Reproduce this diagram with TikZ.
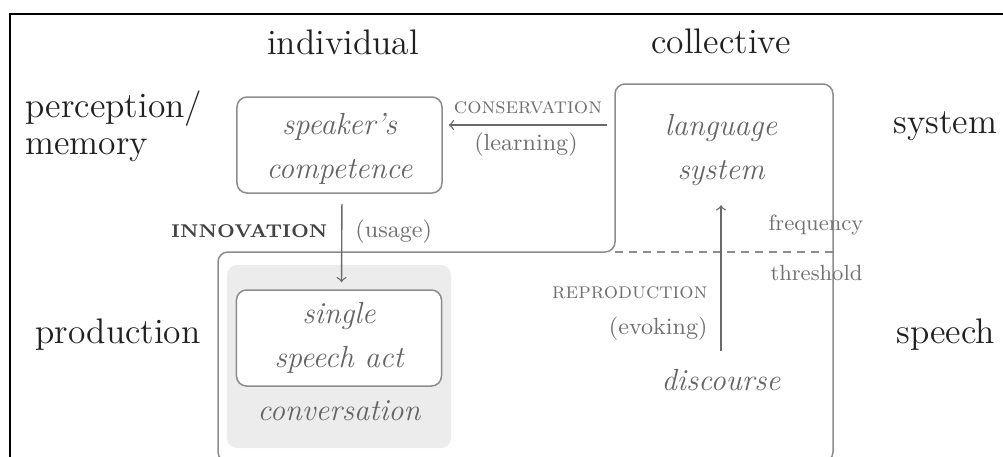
\documentclass[tikz,border=0pt]{standalone}
\definecolor{linegray}{HTML}{8C8C8C}
\definecolor{arrgray}{HTML}{6A6A6A}
\definecolor{txtgray}{HTML}{646464}
\definecolor{labgray}{HTML}{707070}
\definecolor{headc}{HTML}{202020}
\definecolor{convfill}{HTML}{ECECEC}
\begin{document}
\begin{tikzpicture}[x=0.4pt,y=-0.4pt,
  head/.style={font=\fontsize{14.2}{17}\selectfont, text=headc, inner sep=0pt},
  boxtext/.style={font=\fontsize{12.2}{17.6}\selectfont\itshape, text=txtgray, align=center},
  rbox/.style={draw=linegray, line width=0.6pt, rounded corners=4pt, fill=white,
    minimum width=82pt, minimum height=38.4pt, inner sep=0pt},
  convbox/.style={fill=convfill, rounded corners=4pt, minimum width=89.6pt,
    minimum height=73.2pt, inner sep=0pt},
  lab/.style={font=\fontsize{9.4}{11}\selectfont, text=labgray, inner sep=0pt},
  sclab/.style={font=\fontsize{9}{11}\selectfont\scshape, text=labgray, inner sep=0pt},
  flab/.style={font=\fontsize{8.8}{10}\selectfont, text=labgray, inner sep=0pt},
  conn/.style={->, draw=arrgray, line width=0.55pt},
  outline/.style={draw=linegray, line width=0.6pt, rounded corners=4pt},
]
\useasboundingbox (0,0) rectangle (1003,456);
\clip (0,0) rectangle (1003,456);
% outer frame
\draw[black, line width=0.8pt] (10,14) rectangle (1030,490);

% headers
\node[head, anchor=base] (ind) at (343,54) {individual};
\node[head, anchor=base] (col) at (721,53) {collective};
\node[head, anchor=base west] (perc) at (25,117) {perception/};
\node[head, anchor=base west] (mem) at (25,154) {memory};
\node[head, anchor=base west] (sys) at (893,133) {system};
\node[head, anchor=base west] (prod) at (35,343) {production};
\node[head, anchor=base west] (sp) at (896,343) {speech};

% collective outline (language system + speech area)
\coordinate (oNW) at (615,84);
\coordinate (oNE) at (833,84);
\coordinate (oSE) at (833,462);
\coordinate (oSW) at (218,462);
\coordinate (oW) at (218,252);
\coordinate (oIn) at (615,252);
\draw[outline] (oNW) -- (oNE) -- (oSE) -- (oSW) -- (oW) -- (oIn) -- cycle;
\draw[draw=linegray, line width=0.6pt, dash pattern=on 3.2pt off 2.4pt] (oIn) -- (oNE |- oIn);

% conversation area
\node[convbox] (conv) at (339,356.5) {};
\node[boxtext, anchor=base, inner sep=0pt] (convt) at (339,420) {conversation};

% boxes
\node[rbox, boxtext] (comp) at (339.5,145) {\rule{0pt}{11.6pt}speaker's\\competence};
\node[rbox, boxtext] (single) at (339,338) {single\\speech act};
\node[boxtext, inner sep=0pt] (lang) at (721,150) {language\\system};
\node[boxtext, inner sep=0pt, anchor=base] (disc) at (721,390) {discourse};

% connectors
\coordinate (langW) at (615,125);
\draw[conn, shorten <=3.2pt, shorten >=2.4pt] (langW) -- (comp.east |- langW);
\draw[conn, shorten <=4pt, shorten >=2.8pt] ([xshift=1pt]comp.south) -- ([xshift=1pt]single.north);
\draw[conn, shorten <=6.8pt, shorten >=7.6pt] (disc.north) -- (lang.south);

% connector labels
\node[sclab, anchor=base] (consl) at (528,113) {conservation};
\node[lab, anchor=base] (learn) at (526,150) {(learning)};
\node[font=\fontsize{7.4}{9}\selectfont\bfseries, text=headc!85, inner sep=0pt, anchor=base east] (innl) at (328,237) {INNOVATION};
\node[lab, anchor=base west] (usage) at (355,237) {(usage)};
\node[sclab, anchor=base east] (repl) at (708,298) {reproduction};
\node[lab, anchor=base east] (evok) at (708,334) {(evoking)};
\node[flab, anchor=base west] (freq) at (768,230) {frequency};
\node[flab, anchor=base west] (thr) at (770,280) {threshold};
\end{tikzpicture}
\end{document}
